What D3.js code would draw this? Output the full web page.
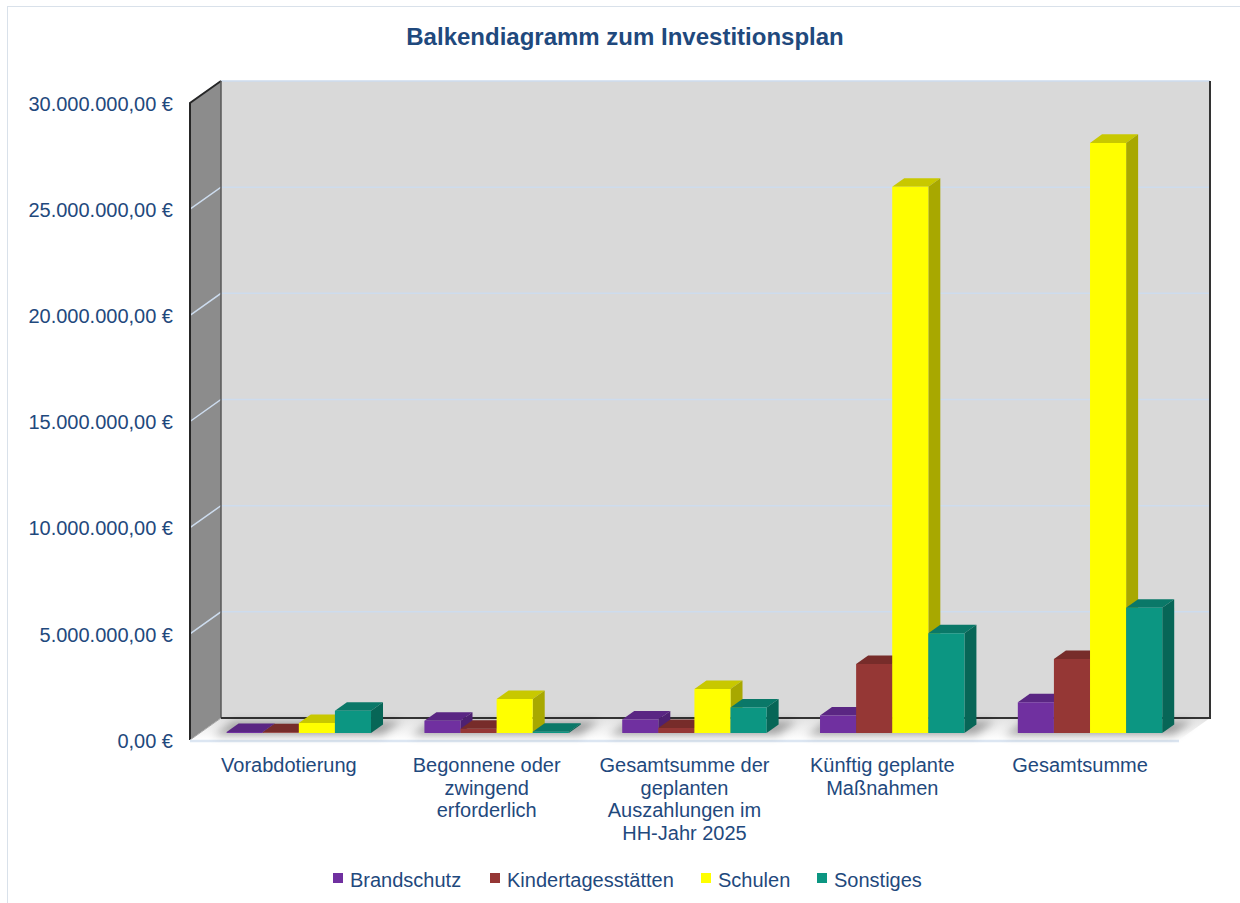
<!DOCTYPE html>
<html lang="de">
<head>
<meta charset="utf-8">
<script src="https://cdn.jsdelivr.net/npm/d3@7"></script>
<style>
  html, body { margin: 0; padding: 0; background: #ffffff; }
  svg { display: block; }
</style>
</head>
<body>
<svg id="chart" width="1240" height="903"></svg>
<script>
// Investitionsplan – Werte in Euro
const categories = [
  "Vorabdotierung",
  "Begonnene oder zwingend erforderlich",
  "Gesamtsumme der geplanten Auszahlungen im HH-Jahr 2025",
  "Künftig geplante Maßnahmen",
  "Gesamtsumme"
];
const seriesNames = ["Brandschutz", "Kindertagesstätten", "Schulen", "Sonstiges"];
const brandschutz        = [50000, 580000, 630000, 820000, 1450000];
const kindertagesstaetten = [30000, 200000, 230000, 3250000, 3480000];
const schulen            = [470000, 1600000, 2070000, 25720000, 27790000];
const sonstiges          = [1050000, 60000, 1200000, 4700000, 5900000];
const yTicks = [0, 5000000, 10000000, 15000000, 20000000, 25000000, 30000000];

const seriesValues = [brandschutz, kindertagesstaetten, schulen, sonstiges];
const colors = {
  front: ["#7030a0", "#953735", "#ffff00", "#0c9682"],
  top:   ["#5a2683", "#772c2a", "#c8c800", "#0a7868"],
  side:  ["#4e2172", "#672523", "#a8a800", "#076657"]
};

const svg = d3.select("#chart");
const textColor = "#1f497d";
const font = "'Liberation Sans', Arial, Helvetica, sans-serif";

// oblique 3D projection: depth z in [0,1] shifts right and up
const DX = 31, DY = 22;
const proj = (x, y, z) => [x + z * DX, y - z * DY];

const x0 = d3.scaleBand().domain(categories).range([190, 1179]);
const bw = x0.bandwidth();
const x1 = d3.scaleBand().domain(seriesNames).range([bw * 0.135, bw * 0.865]);
const y = d3.scaleLinear().domain([0, 30000000]).range([740, 103]);

const de = d3.formatLocale({ decimal: ",", thousands: ".", grouping: [3], currency: ["", " €"] });
const fmt = v => de.format(",.2f")(v) + " €";

const poly = pts => "M" + pts.map(p => p.join(",")).join("L") + "Z";

// outer frame
svg.append("rect").attr("x", 7.5).attr("y", 6.5).attr("width", 1240).attr("height", 903)
  .attr("fill", "none").attr("stroke", "#d9e1ea").attr("stroke-width", 1);

// title
svg.append("text").attr("x", 625).attr("y", 45).attr("text-anchor", "middle")
  .attr("font-family", font).attr("font-size", 24).attr("font-weight", "bold")
  .attr("fill", textColor).text("Balkendiagramm zum Investitionsplan");

const defs = svg.append("defs");
const floorGrad = defs.append("linearGradient").attr("id", "floorGrad")
  .attr("x1", 0).attr("y1", 0).attr("x2", 0).attr("y2", 1);
floorGrad.append("stop").attr("offset", "0%").attr("stop-color", "#e2e2e2");
floorGrad.append("stop").attr("offset", "100%").attr("stop-color", "#ffffff");
defs.append("filter").attr("id", "soft").attr("x", "-30%").attr("y", "-100%")
  .attr("width", "160%").attr("height", "300%")
  .append("feGaussianBlur").attr("stdDeviation", 4);

const xl = 190, xr = 1179;
const y0 = y(0), yMax = y(30000000);

// back wall
svg.append("path").attr("d", poly([proj(xl, yMax, 1), proj(xr, yMax, 1), proj(xr, y0, 1), proj(xl, y0, 1)]))
  .attr("fill", "#d9d9d9");
// left wall
svg.append("path").attr("d", poly([proj(xl, yMax, 0), proj(xl, yMax, 1), proj(xl, y0, 1), proj(xl, y0, 0)]))
  .attr("fill", "#8c8c8c");
// floor
svg.append("path").attr("d", poly([proj(xl, y0, 0), proj(xl, y0, 1), proj(xr, y0, 1), proj(xr, y0, 0)]))
  .attr("fill", "url(#floorGrad)");

// gridlines on back and left wall
const grid = svg.append("g").attr("stroke", "#cddcee").attr("stroke-width", 1.5).attr("fill", "none");
yTicks.filter(t => t > 0).forEach(t => {
  const a = proj(xl, y(t), 0), b = proj(xl, y(t), 1), c = proj(xr, y(t), 1);
  grid.append("path").attr("d", "M" + a + "L" + b + "L" + c);
});

// wall edges
const edges = svg.append("g").attr("fill", "none");
edges.append("path").attr("d", "M" + proj(xl, y0, 0) + "L" + proj(xl, yMax, 0) + "L" + proj(xl, yMax, 1))
  .attr("stroke", "#262626").attr("stroke-width", 2);
edges.append("path").attr("d", "M" + proj(xl, yMax, 1) + "L" + proj(xl, y0, 1))
  .attr("stroke", "#595959").attr("stroke-width", 1.5);
edges.append("path").attr("d", "M" + proj(xl, y0, 1) + "L" + proj(xr, y0, 1) + "L" + proj(xr, yMax, 1))
  .attr("stroke", "#333333").attr("stroke-width", 2);
edges.append("path").attr("d", "M" + proj(xl, y0, 0) + "L" + proj(xl, y0, 1))
  .attr("stroke", "#a6a6a6").attr("stroke-width", 1);
edges.append("path").attr("d", "M" + proj(xl, y0 + 1, 0) + "L" + proj(xr, y0 + 1, 0))
  .attr("stroke", "#dce6f2").attr("stroke-width", 2.5);

// bars
const zf = 0.32, zb = 0.32 + 12 / DX;
const shadows = svg.append("g").attr("filter", "url(#soft)");
const bars = svg.append("g");

categories.forEach((cat, i) => {
  const gx0 = x0(cat) + x1(seriesNames[0]);
  const gx1 = x0(cat) + x1(seriesNames[3]) + x1.bandwidth();
  shadows.append("path")
    .attr("d", poly([proj(gx0 - 10, y0, zf - 0.1), proj(gx0 - 10, y0, zb + 0.15),
                     proj(gx1 + 14, y0, zb + 0.15), proj(gx1 + 14, y0, zf - 0.1)]))
    .attr("fill", "#000").attr("opacity", 0.32);

  seriesNames.forEach((s, j) => {
    const v = seriesValues[j][i];
    const a = x0(cat) + x1(s), b = a + x1.bandwidth();
    const yt = y(v);
    const g = bars.append("g");
    // top face
    g.append("path").attr("d", poly([proj(a, yt, zf), proj(a, yt, zb), proj(b, yt, zb), proj(b, yt, zf)]))
      .attr("fill", colors.top[j]);
    // right side face
    g.append("path").attr("d", poly([proj(b, yt, zf), proj(b, yt, zb), proj(b, y0, zb), proj(b, y0, zf)]))
      .attr("fill", colors.side[j]);
    // front face
    g.append("path").attr("d", poly([proj(a, yt, zf), proj(b, yt, zf), proj(b, y0, zf), proj(a, y0, zf)]))
      .attr("fill", colors.front[j]);
  });
});

// y axis labels
const yAxis = svg.append("g").attr("transform", "translate(173,0)")
  .call(d3.axisLeft(y).tickValues(yTicks).tickFormat(fmt).tickSize(0).tickPadding(0));
yAxis.select(".domain").remove();
yAxis.selectAll("text").attr("font-family", font).attr("font-size", 20)
  .attr("fill", textColor).attr("dy", "0.36em");

// category labels (wrapped)
const xAxis = svg.append("g").attr("font-family", font).attr("font-size", 20).attr("fill", textColor);
const measure = svg.append("text").attr("font-family", font).attr("font-size", 20).attr("opacity", 0);
function wrap(str, maxW) {
  const words = str.split(" "), lines = [];
  let line = "";
  words.forEach(w => {
    const test = line ? line + " " + w : w;
    measure.text(test);
    if (line && measure.node().getComputedTextLength() > maxW) { lines.push(line); line = w; }
    else line = test;
  });
  if (line) lines.push(line);
  return lines;
}
categories.forEach(cat => {
  const t = xAxis.append("text").attr("text-anchor", "middle");
  wrap(cat, 180).forEach((ln, k) => {
    t.append("tspan").attr("x", x0(cat) + bw / 2).attr("y", 772 + k * 22.7).text(ln);
  });
});
measure.remove();

// legend
const legendX = [333, 490, 701, 817];
const legend = svg.append("g").attr("font-family", font).attr("font-size", 20).attr("fill", textColor);
seriesNames.forEach((s, j) => {
  legend.append("rect").attr("x", legendX[j]).attr("y", 873).attr("width", 10).attr("height", 10)
    .attr("fill", colors.front[j]);
  legend.append("text").attr("x", legendX[j] + 17).attr("y", 887).text(s);
});
</script>
</body>
</html>
